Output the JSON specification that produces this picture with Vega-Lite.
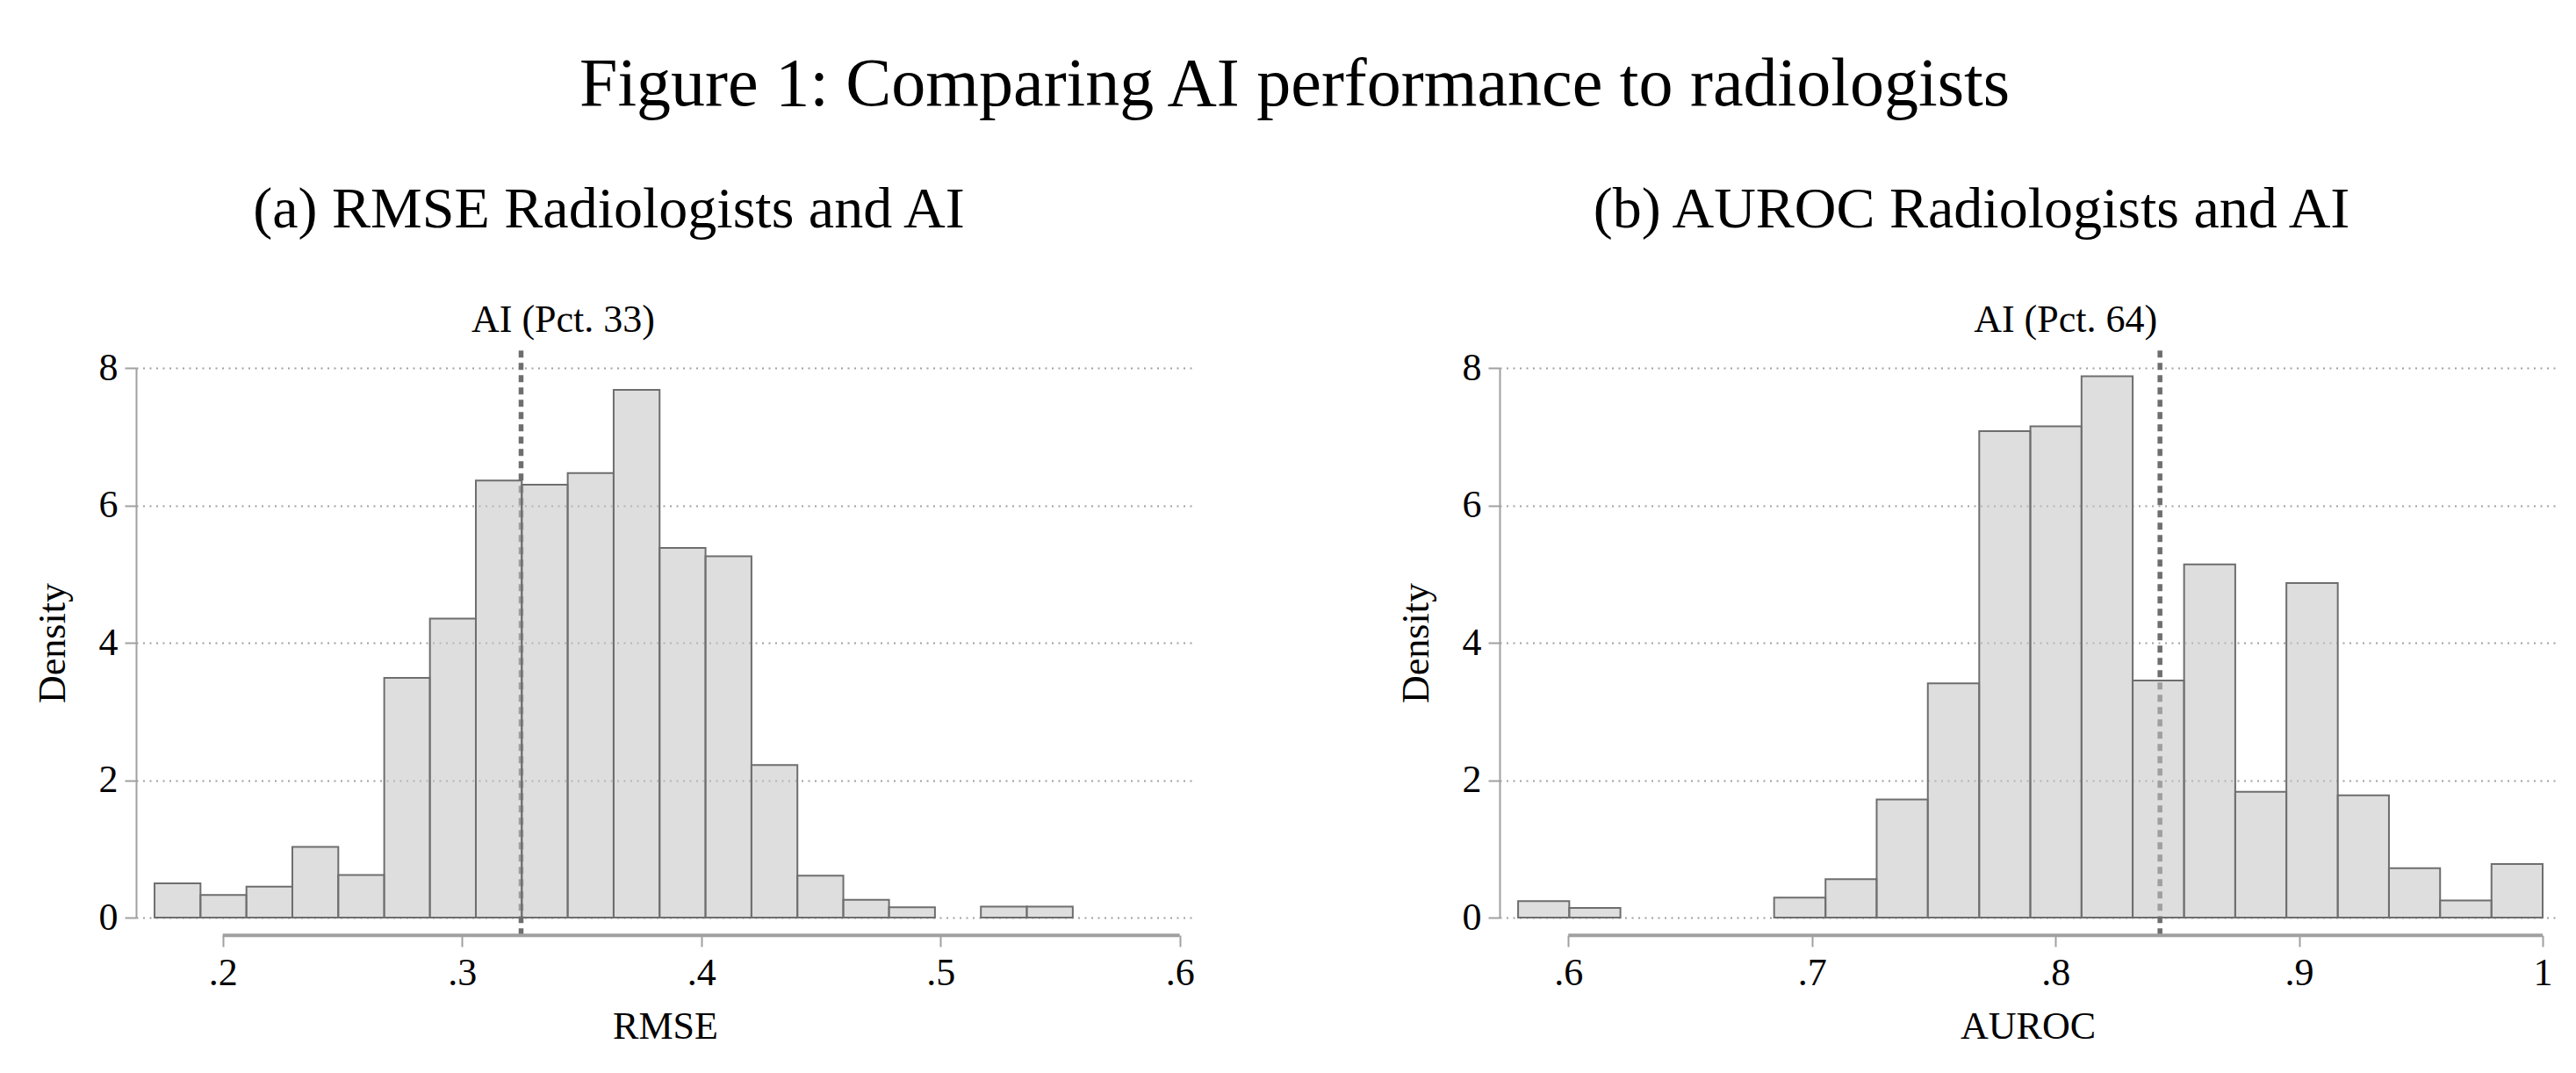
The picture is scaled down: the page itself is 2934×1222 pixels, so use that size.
{
  "$schema": "https://vega.github.io/schema/vega-lite/v6.json",
  "title": {
    "text": "Figure 1: Comparing AI performance to radiologists",
    "fontSize": 78,
    "anchor": "middle",
    "offset": 70
  },
  "padding": {"left": 38, "top": 58, "right": 0, "bottom": 0},
  "spacing": 230,
  "datasets": {
    "rmse": [
      {"bin_start": 0.1715, "bin_end": 0.1907, "density": 0.50},
      {"bin_start": 0.1907, "bin_end": 0.2099, "density": 0.33},
      {"bin_start": 0.2099, "bin_end": 0.2291, "density": 0.45},
      {"bin_start": 0.2291, "bin_end": 0.2483, "density": 1.03},
      {"bin_start": 0.2483, "bin_end": 0.2675, "density": 0.62},
      {"bin_start": 0.2675, "bin_end": 0.2866, "density": 3.49},
      {"bin_start": 0.2866, "bin_end": 0.3058, "density": 4.35},
      {"bin_start": 0.3058, "bin_end": 0.3250, "density": 6.36},
      {"bin_start": 0.3250, "bin_end": 0.3442, "density": 6.30},
      {"bin_start": 0.3442, "bin_end": 0.3634, "density": 6.47},
      {"bin_start": 0.3634, "bin_end": 0.3826, "density": 7.68},
      {"bin_start": 0.3826, "bin_end": 0.4018, "density": 5.38},
      {"bin_start": 0.4018, "bin_end": 0.4210, "density": 5.26},
      {"bin_start": 0.4210, "bin_end": 0.4402, "density": 2.22},
      {"bin_start": 0.4402, "bin_end": 0.4594, "density": 0.61},
      {"bin_start": 0.4594, "bin_end": 0.4785, "density": 0.26},
      {"bin_start": 0.4785, "bin_end": 0.4977, "density": 0.15},
      {"bin_start": 0.5169, "bin_end": 0.5361, "density": 0.16},
      {"bin_start": 0.5361, "bin_end": 0.5553, "density": 0.16}
    ],
    "auroc": [
      {"bin_start": 0.5794, "bin_end": 0.6004, "density": 0.24},
      {"bin_start": 0.6004, "bin_end": 0.6214, "density": 0.14},
      {"bin_start": 0.6845, "bin_end": 0.7056, "density": 0.29},
      {"bin_start": 0.7056, "bin_end": 0.7266, "density": 0.56},
      {"bin_start": 0.7266, "bin_end": 0.7476, "density": 1.72},
      {"bin_start": 0.7476, "bin_end": 0.7687, "density": 3.41},
      {"bin_start": 0.7687, "bin_end": 0.7897, "density": 7.08},
      {"bin_start": 0.7897, "bin_end": 0.8107, "density": 7.15},
      {"bin_start": 0.8107, "bin_end": 0.8317, "density": 7.88},
      {"bin_start": 0.8317, "bin_end": 0.8528, "density": 3.45},
      {"bin_start": 0.8528, "bin_end": 0.8738, "density": 5.14},
      {"bin_start": 0.8738, "bin_end": 0.8948, "density": 1.83},
      {"bin_start": 0.8948, "bin_end": 0.9159, "density": 4.87},
      {"bin_start": 0.9159, "bin_end": 0.9369, "density": 1.78},
      {"bin_start": 0.9369, "bin_end": 0.9579, "density": 0.72},
      {"bin_start": 0.9579, "bin_end": 0.9790, "density": 0.25},
      {"bin_start": 0.9790, "bin_end": 1.0000, "density": 0.78}
    ],
    "ai_rmse": [{"ai": 0.3247, "label": "AI (Pct. 33)"}],
    "ai_auroc": [{"ai": 0.8429, "label": "AI (Pct. 64)"}]
  },
  "hconcat": [
    {
      "title": {"text": "(a) RMSE Radiologists and AI", "fontSize": 66, "dx": -64, "offset": 70},
      "width": 1205,
      "height": 626,
      "layer": [
        {
          "data": {"name": "ai_rmse"},
          "mark": {"type": "rule", "color": "#6e6e6e", "strokeWidth": 5.5, "strokeDash": [8, 6]},
          "encoding": {
            "x": {"field": "ai", "type": "quantitative", "title": "RMSE"},
            "y": {"datum": -0.26},
            "y2": {"datum": 8.27}
          }
        },
        {
          "data": {"name": "rmse"},
          "mark": {"type": "rect", "fill": "#c5c5c5", "fillOpacity": 0.57, "stroke": "#6e6e6e", "strokeWidth": 2},
          "encoding": {
            "x": {
              "field": "bin_start", "type": "quantitative", "title": "RMSE",
              "scale": {"domain": [0.16378, 0.606], "nice": false, "zero": false},
              "axis": {"values": [0.2, 0.3, 0.4, 0.5, 0.6], "labelExpr": "replace(format(datum.value, '.1f'), '0.', '.')"}
            },
            "x2": {"field": "bin_end"},
            "y": {
              "field": "density", "type": "quantitative", "title": "Density",
              "scale": {"domain": [0, 8], "nice": false},
              "axis": {"values": [0, 2, 4, 6, 8], "format": "d"}
            },
            "y2": {"datum": 0}
          }
        },
        {
          "data": {"values": [{}]},
          "mark": {"type": "rule", "color": "#a0a0a0", "strokeWidth": 4},
          "encoding": {
            "x": {"datum": 0.2},
            "x2": {"datum": 0.6},
            "y": {"datum": -0.26}
          }
        },
        {
          "data": {"name": "ai_rmse"},
          "mark": {"type": "text", "fontSize": 44, "baseline": "alphabetic", "align": "center", "dx": 48, "font": "Liberation Serif", "color": "#000"},
          "encoding": {
            "x": {"field": "ai", "type": "quantitative"},
            "y": {"datum": 8.52},
            "text": {"field": "label"}
          }
        }
      ]
    },
    {
      "title": {"text": "(b) AUROC Radiologists and AI", "fontSize": 66, "dx": -64, "offset": 70},
      "width": 1203,
      "height": 626,
      "layer": [
        {
          "data": {"name": "ai_auroc"},
          "mark": {"type": "rule", "color": "#6e6e6e", "strokeWidth": 5.5, "strokeDash": [8, 6]},
          "encoding": {
            "x": {"field": "ai", "type": "quantitative", "title": "AUROC"},
            "y": {"datum": -0.26},
            "y2": {"datum": 8.27}
          }
        },
        {
          "data": {"name": "auroc"},
          "mark": {"type": "rect", "fill": "#c5c5c5", "fillOpacity": 0.57, "stroke": "#6e6e6e", "strokeWidth": 2},
          "encoding": {
            "x": {
              "field": "bin_start", "type": "quantitative", "title": "AUROC",
              "scale": {"domain": [0.5718, 1.0054], "nice": false, "zero": false},
              "axis": {"values": [0.6, 0.7, 0.8, 0.9, 1.0], "labelExpr": "datum.value > 0.999 ? '1' : replace(format(datum.value, '.1f'), '0.', '.')"}
            },
            "x2": {"field": "bin_end"},
            "y": {
              "field": "density", "type": "quantitative", "title": "Density",
              "scale": {"domain": [0, 8], "nice": false},
              "axis": {"values": [0, 2, 4, 6, 8], "format": "d"}
            },
            "y2": {"datum": 0}
          }
        },
        {
          "data": {"values": [{}]},
          "mark": {"type": "rule", "color": "#a0a0a0", "strokeWidth": 4},
          "encoding": {
            "x": {"datum": 0.6},
            "x2": {"datum": 1.0},
            "y": {"datum": -0.26}
          }
        },
        {
          "data": {"name": "ai_auroc"},
          "mark": {"type": "text", "fontSize": 44, "baseline": "alphabetic", "align": "right", "dx": -3, "font": "Liberation Serif", "color": "#000"},
          "encoding": {
            "x": {"field": "ai", "type": "quantitative"},
            "y": {"datum": 8.52},
            "text": {"field": "label"}
          }
        }
      ]
    }
  ],
  "config": {
    "view": {"stroke": null},
    "font": "Liberation Serif",
    "title": {"font": "Liberation Serif", "fontWeight": "normal", "color": "#000"},
    "axis": {
      "labelFont": "Liberation Serif", "labelFontSize": 44, "labelColor": "#000",
      "titleFont": "Liberation Serif", "titleFontSize": 44, "titleFontWeight": "normal", "titleColor": "#000",
      "tickColor": "#a0a0a0", "tickWidth": 2, "tickSize": 13, "labelPadding": 8,
      "domainColor": "#a0a0a0", "domainWidth": 2,
      "labelFlush": false, "labelOverlap": false
    },
    "axisX": {"grid": false, "domain": false, "offset": 20, "titlePadding": 17},
    "axisY": {"grid": true, "gridColor": "#a0a0a0", "gridDash": [2, 5.5], "gridWidth": 2, "titlePadding": 30}
  }
}
